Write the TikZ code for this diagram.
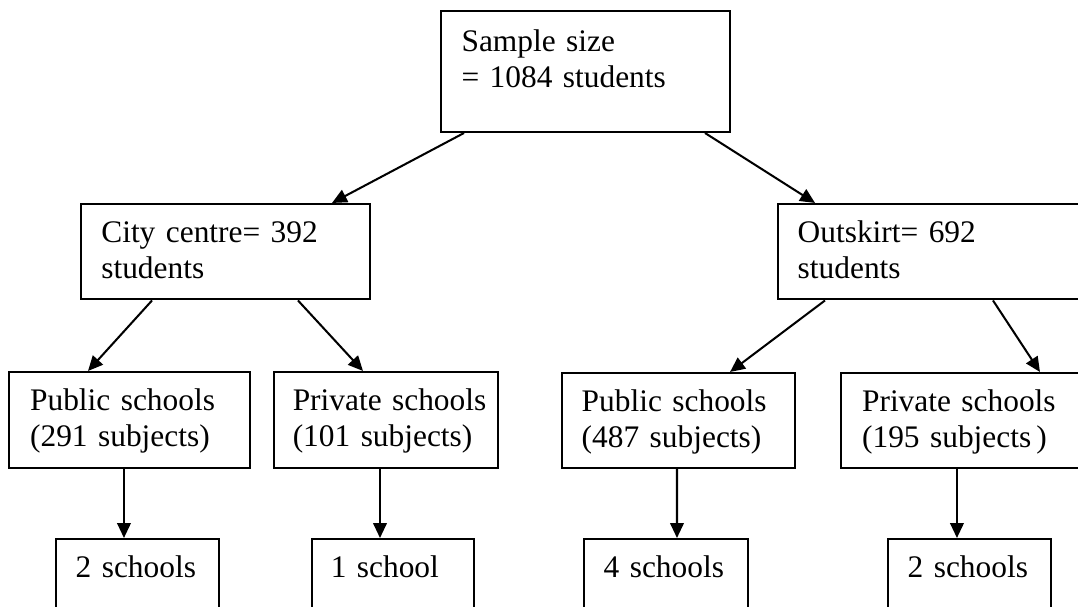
\documentclass[tikz,border=0pt]{standalone}
\usepackage{fontspec}
\setmainfont{Liberation Serif}
\usetikzlibrary{arrows.meta, positioning}
\tikzset{
    stage/.style={
        rectangle, draw=black, line width=0.75pt,
        anchor=north west, inner sep=0pt
    },
    stagetext/.style={
        anchor=base west, inner sep=0pt, align=left,
        text width=3.6cm, font=\fontsize{11.6}{13.3}\selectfont
    },
    link/.style={draw=black, line width=0.75pt, -{Triangle[length=5.5pt,width=5pt]}}
}

\begin{document}
\begin{tikzpicture}
\useasboundingbox (0,0) rectangle (14,-7.883);
\clip (0,0) rectangle (14,-7.883);

% Total sample
\node[stage, minimum width=3.753cm, minimum height=1.571cm] (total) at (5.714,-0.130) {};
\node[stagetext] (totalt) at ([shift={(0.273,-0.539)}]total.north west) {Sample size\\= 1084 students};

% Areas
\node[stage, minimum width=3.753cm, minimum height=1.240cm] (city) at (1.039,-2.636) {};
\node[stagetext] (cityt) at ([shift={(0.270,-0.519)}]city.north west) {City centre= 392\\students};
\node[stage, minimum width=4.000cm, minimum height=1.240cm] (outs) at (10.091,-2.636) {};
\node[stagetext] (outst) at ([shift={(0.262,-0.519)}]outs.north west) {Outskirt= 692\\students};

% School types
\node[stage, minimum width=3.130cm, minimum height=1.247cm] (pubc) at (0.104,-4.818) {};
\node[stagetext] (pubct) at ([shift={(0.280,-0.510)}]pubc.north west) {Public schools\\(291 subjects)};
\node[stage, minimum width=2.909cm, minimum height=1.247cm] (pric) at (3.545,-4.818) {};
\node[stagetext] (prict) at ([shift={(0.250,-0.510)}]pric.north west) {Private schools\\(101 subjects)};
\node[stage, minimum width=3.026cm, minimum height=1.234cm] (pubo) at (7.286,-4.831) {};
\node[stagetext] (pubot) at ([shift={(0.262,-0.519)}]pubo.north west) {Public schools\\(487 subjects)};
\node[stage, minimum width=3.247cm, minimum height=1.234cm] (prio) at (10.909,-4.831) {};
\node[stagetext] (priot) at ([shift={(0.280,-0.519)}]prio.north west) {Private schools\\(195 subjects\,)};

% Schools
\node[stage, minimum width=2.117cm, minimum height=1.100cm] (schpc) at (0.714,-6.987) {};
\node[stagetext] (schpct) at ([shift={(0.262,-0.519)}]schpc.north west) {2 schools};
\node[stage, minimum width=2.104cm, minimum height=1.100cm] (schrc) at (4.039,-6.987) {};
\node[stagetext] (schrct) at ([shift={(0.250,-0.519)}]schrc.north west) {1 school};
\node[stage, minimum width=2.130cm, minimum height=1.100cm] (schpo) at (7.571,-6.987) {};
\node[stagetext] (schpot) at ([shift={(0.262,-0.519)}]schpo.north west) {4 schools};
\node[stage, minimum width=2.117cm, minimum height=1.100cm] (schro) at (11.519,-6.987) {};
\node[stagetext] (schrot) at ([shift={(0.262,-0.519)}]schro.north west) {2 schools};

% Connections
\draw[link] ([xshift=0.312cm]total.south west) -- ([xshift=3.273cm]city.north west);
\draw[link] ([xshift=3.442cm]total.south west) -- ([xshift=0.494cm]outs.north west);
\draw[link] ([xshift=0.935cm]city.south west) -- ([xshift=1.039cm]pubc.north west);
\draw[link] ([xshift=2.831cm]city.south west) -- ([xshift=1.169cm]pric.north west);
\draw[link] ([xshift=0.623cm]outs.south west) -- ([xshift=2.195cm]pubo.north west);
\draw[link] ([xshift=2.805cm]outs.south west) -- ([xshift=2.597cm]prio.north west);
\draw[link] ([xshift=1.506cm]pubc.south west) -- ([xshift=0.896cm]schpc.north west);
\draw[link] ([xshift=1.390cm]pric.south west) -- ([xshift=0.896cm]schrc.north west);
\draw[link] ([xshift=1.506cm]pubo.south west) -- ([xshift=1.221cm]schpo.north west);
\draw[link] ([xshift=1.519cm]prio.south west) -- ([xshift=0.909cm]schro.north west);

\end{tikzpicture}
\end{document}
